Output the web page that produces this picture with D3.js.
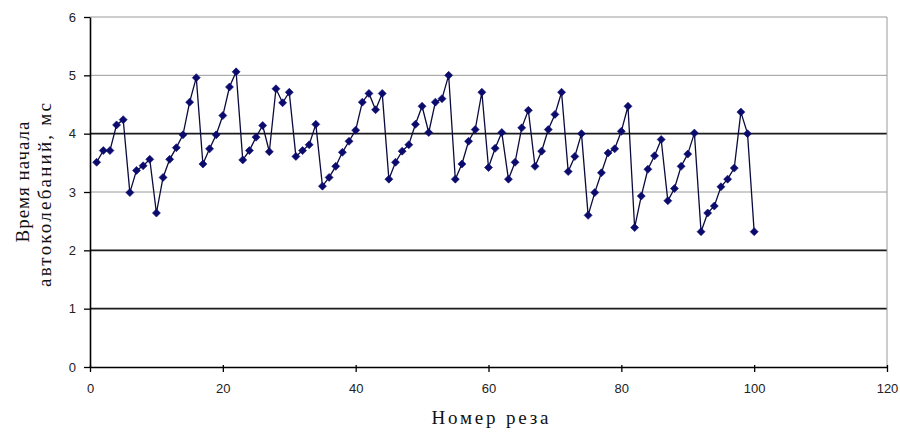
<!DOCTYPE html>
<html>
<head>
<meta charset="utf-8">
<script src="https://cdn.jsdelivr.net/npm/d3@7"></script>
<style>
  body { margin: 0; background: #fff; }
  #chart { width: 900px; height: 432px; }
</style>
</head>
<body>
<div id="chart"></div>
<script>
const X_TICKS = [0, 20, 40, 60, 80, 100, 120]
const Y_TICKS = [0, 1, 2, 3, 4, 5, 6]
const DARK_GRID = [1, 2, 4]
const LIGHT_GRID = [3, 5, 6]

const CUT_NUMBERS = d3.range(1, 101)
const START_TIMES = [
  3.51, 3.71, 3.71, 4.15, 4.24, 2.99, 3.37, 3.45, 3.56, 2.64,
  3.25, 3.56, 3.76, 3.98, 4.54, 4.96, 3.48, 3.74, 3.98, 4.31,
  4.80, 5.06, 3.55, 3.71, 3.94, 4.14, 3.69, 4.77, 4.53, 4.71,
  3.61, 3.71, 3.81, 4.16, 3.10, 3.25, 3.44, 3.68, 3.87, 4.06,
  4.54, 4.69, 4.41, 4.69, 3.22, 3.51, 3.70, 3.81, 4.16, 4.47,
  4.02, 4.54, 4.60, 5.00, 3.22, 3.48, 3.87, 4.07, 4.71, 3.42,
  3.75, 4.02, 3.22, 3.51, 4.10, 4.40, 3.44, 3.70, 4.07, 4.33,
  4.71, 3.35, 3.61, 4.00, 2.60, 2.99, 3.33, 3.67, 3.74, 4.04,
  4.47, 2.39, 2.93, 3.39, 3.62, 3.90, 2.85, 3.06, 3.44, 3.65,
  4.01, 2.32, 2.64, 2.76, 3.09, 3.22, 3.41, 4.37, 4.00, 2.32
]

const X_TITLE = "Номер реза"
const Y_TITLE = ["Время начала", "автоколебаний, мс"]

const width = 900
const height = 432
const margin = { top: 17, right: 13, bottom: 65, left: 90 }
const innerW = width - margin.left - margin.right
const innerH = height - margin.top - margin.bottom

const svg = d3.select("#chart").append("svg")
  .attr("width", width)
  .attr("height", height)

const g = svg.append("g")
  .attr("transform", `translate(${margin.left},${margin.top})`)

const x = d3.scaleLinear().domain([0, 120]).range([0, innerW])
const y = d3.scaleLinear().domain([0, 6]).range([innerH, 0])

// Grid lines (Excel-ish: some darker than others)
g.append("g").selectAll("line")
  .data(LIGHT_GRID)
  .enter().append("line")
  .attr("x1", 0).attr("x2", innerW)
  .attr("y1", d => y(d)).attr("y2", d => y(d))
  .attr("stroke", "#9a9a9a").attr("stroke-width", 1)

g.append("g").selectAll("line")
  .data(DARK_GRID)
  .enter().append("line")
  .attr("x1", 0).attr("x2", innerW)
  .attr("y1", d => y(d)).attr("y2", d => y(d))
  .attr("stroke", "#1a1a1a").attr("stroke-width", 1.6)

// right border
g.append("line")
  .attr("x1", innerW).attr("x2", innerW)
  .attr("y1", 0).attr("y2", innerH)
  .attr("stroke", "#9a9a9a").attr("stroke-width", 1)

// Axes
const xAxis = g.append("g")
  .attr("transform", `translate(0,${innerH})`)
  .call(d3.axisBottom(x).tickValues(X_TICKS).tickFormat(d3.format("d"))
    .tickSize(5).tickSizeOuter(0).tickPadding(12))

const yAxis = g.append("g")
  .call(d3.axisLeft(y).tickValues(Y_TICKS).tickFormat(d3.format("d"))
    .tickSize(6).tickSizeOuter(0).tickPadding(8))

;[xAxis, yAxis].forEach(ax => {
  ax.select(".domain").attr("stroke", "#000").attr("stroke-width", 1.6)
  ax.selectAll(".tick line").attr("stroke", "#000").attr("stroke-width", 1.3)
  ax.selectAll("text")
    .attr("fill", "#222")
    .attr("font-family", "'Liberation Sans', Arial, sans-serif")
    .attr("font-size", 13)
})
xAxis.selectAll(".tick line").attr("y1", -2)

// Series
const points = CUT_NUMBERS.map((n, i) => ({ n, v: START_TIMES[i] }))

g.append("path")
  .datum(points)
  .attr("fill", "none")
  .attr("stroke", "#0a0a3c")
  .attr("stroke-width", 1.3)
  .attr("d", d3.line().x(d => x(d.n)).y(d => y(d.v)))

g.selectAll(".pt")
  .data(points)
  .enter().append("path")
  .attr("class", "pt")
  .attr("transform", d => `translate(${x(d.n)},${y(d.v)})`)
  .attr("d", "M0,-4 L4,0 L0,4 L-4,0 Z")
  .attr("fill", "#0b0b6e")
  .attr("stroke", "#0b0b6e")
  .attr("stroke-width", 0.6)

// Axis titles
svg.append("text")
  .attr("x", 490).attr("y", 424)
  .attr("text-anchor", "middle")
  .attr("font-family", "'Liberation Serif', 'Times New Roman', serif")
  .attr("font-size", 19)
  .attr("fill", "#111")
  .attr("textLength", 117)
  .attr("lengthAdjust", "spacing")
  .text(X_TITLE)

const yTitleLines = [
  { text: Y_TITLE[0], cx: 29, cy: 182, len: 121 },
  { text: Y_TITLE[1], cx: 51, cy: 195, len: 184 }
]
yTitleLines.forEach(l => {
  svg.append("text")
    .attr("transform", `translate(${l.cx},${l.cy}) rotate(-90)`)
    .attr("text-anchor", "middle")
    .attr("font-family", "'Liberation Serif', 'Times New Roman', serif")
    .attr("font-size", 19)
    .attr("fill", "#111")
    .attr("textLength", l.len)
    .attr("lengthAdjust", "spacing")
    .text(l.text)
})
</script>
</body>
</html>
